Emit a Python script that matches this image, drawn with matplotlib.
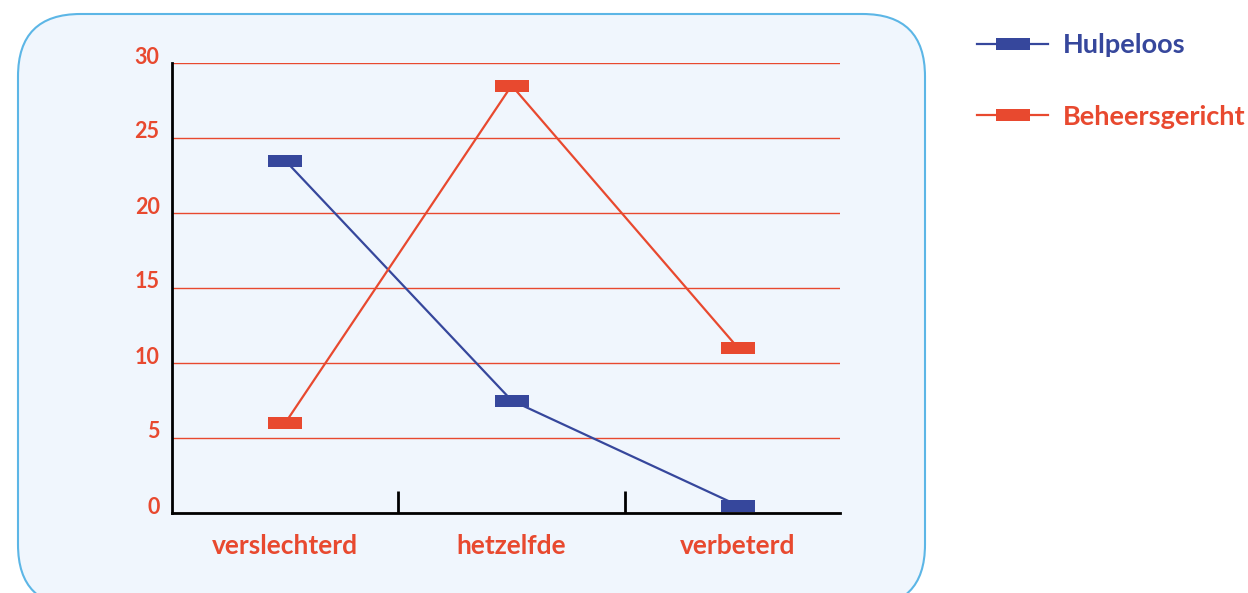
import matplotlib.pyplot as plt
from matplotlib.lines import Line2D
from matplotlib.patches import FancyBboxPatch
from matplotlib.transforms import ScaledTranslation

# data
categories = ['verslechterd', 'hetzelfde', 'verbeterd']
hulpeloos = [23.5, 7.5, 0.5]
beheersgericht = [6, 28.5, 11]
series_names = ['Hulpeloos', 'Beheersgericht']
y_ticks = [0, 5, 10, 15, 20, 25, 30]

RED = '#e8492f'
BLUE = '#36479c'
BG = '#f0f6fd'
EDGE = '#5cb6e6'

plt.rcParams['font.family'] = ['Lato', 'DejaVu Sans']

W, H = 1248, 593
fig = plt.figure(figsize=(W / 100, H / 100), dpi=100)

# rounded panel behind the chart (bottom edge runs off the image)
box = FancyBboxPatch((18 / W, -14 / H), (925 - 18) / W, (579 + 14) / H,
                     boxstyle='round,pad=0,rounding_size=0.05',
                     transform=fig.transFigure, facecolor=BG,
                     edgecolor=EDGE, linewidth=1.5, mutation_aspect=W / H,
                     zorder=-5)
fig.add_artist(box)

ax = fig.add_axes([172 / W, 1 - 513 / H, (840 - 172) / W, (513 - 63) / H])
ax.set_facecolor('none')

rect = [(-1.5, -0.5), (1.5, -0.5), (1.5, 0.5), (-1.5, 0.5), (-1.5, -0.5)]
x = range(len(categories))
ax.plot(x, hulpeloos, color=BLUE, lw=1.6, marker=rect, markersize=25,
        markeredgewidth=0, zorder=3, clip_on=False)
ax.plot(x, beheersgericht, color=RED, lw=1.6, marker=rect, markersize=25,
        markeredgewidth=0, zorder=3, clip_on=False)

ax.set_xlim(-0.5, 2.45)
ax.set_ylim(0, 30)
ax.set_yticks(y_ticks)
ax.set_yticklabels([str(v) for v in y_ticks])
ax.yaxis.grid(True, color=RED, lw=1)
ax.set_axisbelow(True)

ax.set_xticks(list(x))
ax.set_xticklabels(categories)
ax.set_xticks([0.5, 1.5], minor=True)
ax.tick_params(axis='x', which='major', length=0, pad=15, labelsize=19,
               labelcolor=RED)
ax.tick_params(axis='x', which='minor', direction='in', length=16, width=2,
               color='black')
ax.tick_params(axis='y', length=0, pad=9, labelsize=15.5, labelcolor=RED)
lift = ScaledTranslation(0, 8 / 100, fig.dpi_scale_trans)
for lab in ax.get_yticklabels():
    lab.set_fontweight('bold')
    lab.set_transform(lab.get_transform() + lift)
for lab in ax.get_xticklabels():
    lab.set_fontweight('bold')

for side in ['top', 'right']:
    ax.spines[side].set_visible(False)
for side in ['left', 'bottom']:
    ax.spines[side].set_linewidth(2)
    ax.spines[side].set_color('black')

handles = [Line2D([], [], color=c, lw=1.6, marker=rect, markersize=25,
                  markeredgewidth=0) for c in (BLUE, RED)]
leg = fig.legend(handles, series_names, loc='upper left',
                 bbox_to_anchor=(953 / W, 1 - 9 / H), frameon=False,
                 handlelength=2.6, labelspacing=1.75, handletextpad=0.55,
                 prop={'size': 19.5, 'weight': 'bold'})
for t, c in zip(leg.get_texts(), (BLUE, RED)):
    t.set_color(c)

fig.savefig('out.png', dpi=100, facecolor='white')
